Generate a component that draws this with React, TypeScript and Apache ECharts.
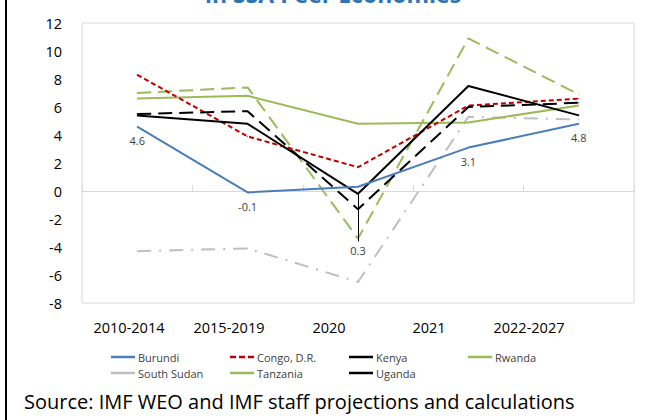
import React, { useEffect, useRef } from "react";
import * as echarts from "echarts";

const categories = ["2010-2014", "2015-2019", "2020", "2021", "2022-2027"];
const burundi = [4.6, -0.1, 0.3, 3.1, 4.8];
const congo = [8.3, 3.9, 1.7, 6.1, 6.6];
const kenya = [5.4, 4.8, -0.2, 7.5, 5.4];
const rwanda = [7.0, 7.4, -3.4, 10.9, 6.9];
const southSudan = [-4.3, -4.1, -6.5, 5.3, 5.1];
const tanzania = [6.6, 6.8, 4.8, 4.9, 6.1];
const uganda = [5.5, 5.7, -1.3, 6.0, 6.3];
const yTicks = { min: -8, max: 12, interval: 2 };
const titleText = "in SSA Peer Economies";
const sourceText = "Source: IMF WEO and IMF staff projections and calculations";

const FONT = "'Open Sans', 'Noto Sans', sans-serif";

export default function App() {
  const ref = useRef<HTMLDivElement>(null);
  useEffect(() => {
    if (!ref.current) return;
    const chart = echarts.init(ref.current, null, { renderer: "svg" });
    const lbl = { fontFamily: FONT, fontSize: 11, color: "#404040" };
    const line = (name: string, data: any[], color: string, type: any, width = 2, z = 2) => ({
      name,
      type: "line",
      xAxisIndex: 0,
      yAxisIndex: 0,
      data,
      symbol: "circle",
      symbolSize: 1,
      showSymbol: true,
      z,
      lineStyle: { color, width, type },
      itemStyle: { color },
    });
    const burundiData = burundi.map((v, i) =>
      i === 2 ? { value: v, label: { offset: [0, 50] } } : v
    );
    const dashIcon = "path://M0,0h6v2h-6zM9,0h6v2h-6zM18,0h6v2h-6z";
    const option: any = {
      animation: false,
      backgroundColor: "#ffffff",
      textStyle: { fontFamily: FONT },
      grid: [
        { left: 82, right: 11, top: 23, bottom: 117, show: true, borderColor: "#d9d9d9", borderWidth: 1, backgroundColor: "transparent" },
        { left: 79, width: 500, top: 23, bottom: 117, show: false },
      ],
      xAxis: [
        {
          type: "category",
          gridIndex: 0,
          data: categories,
          boundaryGap: true,
          axisLine: { show: true, onZero: true, lineStyle: { color: "#d9d9d9", width: 1 } },
          axisTick: { show: true, inside: true, length: 6, lineStyle: { color: "#d9d9d9" } },
          axisLabel: { show: false },
          splitLine: { show: false },
        },
        {
          type: "category",
          gridIndex: 1,
          data: categories,
          position: "bottom",
          axisLine: { show: false, onZero: false },
          axisTick: { show: false },
          axisLabel: { show: true, margin: 17, fontFamily: FONT, fontSize: 14.5, color: "#000" },
        },
      ],
      yAxis: [
        {
          type: "value",
          gridIndex: 0,
          min: yTicks.min,
          max: yTicks.max,
          interval: yTicks.interval,
          axisLine: { show: false },
          axisTick: { show: false },
          splitLine: { show: false },
          axisLabel: { margin: 20, fontFamily: FONT, fontSize: 14.5, color: "#000" },
        },
        {
          type: "value",
          gridIndex: 1,
          min: yTicks.min,
          max: yTicks.max,
          show: false,
        },
      ],
      legend: {
        left: 106,
        top: 344,
        width: 500,
        itemWidth: 24,
        itemHeight: 2.5,
        itemGap: 0,
        symbolKeepAspect: false,
        itemStyle: { opacity: 1 },
        textStyle: { fontFamily: FONT, fontSize: 11, color: "#404040", width: 92, lineHeight: 16, padding: [0, 0, 0, -2] },
        data: [
          { name: "Burundi", icon: "rect" },
          { name: "Congo, D.R.", icon: dashIcon },
          { name: "Kenya", icon: "rect" },
          { name: "Rwanda", icon: "rect" },
          { name: "South Sudan", icon: "rect" },
          { name: "Tanzania", icon: "rect" },
          { name: "Uganda", icon: "rect" },
        ],
      },
      series: [
        line("South Sudan", southSudan, "#bfbfbf", [14, 8, 2, 8], 2),
        line("Tanzania", tanzania, "#9bbb59", "solid", 2),
        line("Rwanda", rwanda, "#9bbb59", [14, 7], 2),
        {
          ...line("Burundi", burundiData, "#4a7ebb", "solid", 2, 3),
          label: { show: true, position: "bottom", distance: 8, ...lbl },
          markLine: {
            silent: true,
            symbol: "none",
            label: { show: false },
            lineStyle: { color: "#000", width: 1, type: "solid" },
            data: [[{ coord: [categories[2], -0.2] }, { coord: [categories[2], -3.6] }]],
          },
        },
        line("Congo, D.R.", congo, "#c00000", [5, 3], 2),
        line("Uganda", uganda, "#000000", [14, 7], 2),
        line("Kenya", kenya, "#000000", "solid", 2),
      ],
      graphic: [
        {
          type: "text",
          x: 333,
          y: 5,
          style: { text: titleText, fontFamily: FONT, fontSize: 23, fontWeight: "bold", fill: "#2e75b6", align: "center", verticalAlign: "bottom" },
        },
        {
          type: "rect",
          shape: { x: 5, y: 0, width: 2, height: 420 },
          style: { fill: "#000" },
        },
        {
          type: "text",
          x: 24,
          y: 401,
          style: { text: sourceText, fontFamily: FONT, fontSize: 20, fill: "#000", verticalAlign: "middle" },
        },
      ],
    };
    chart.setOption(option);
    return () => chart.dispose();
  }, []);
  return (
    <div
      ref={ref}
      style={{ position: "absolute", left: 0, top: 0, width: 645, height: 420 }}
    />
  );
}
